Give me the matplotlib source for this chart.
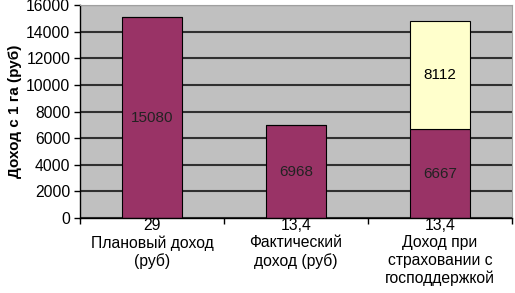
import matplotlib
matplotlib.use("Agg")
import matplotlib.pyplot as plt
import numpy as np

plt.rcParams['font.family'] = ['Liberation Sans', 'DejaVu Sans']

categories = ["29\nПлановый доход\n(руб)", "13,4\nФактический\nдоход (руб)",
              "13,4\nДоход при\nстраховании с\nгосподдержкой"]
base_values = [15080, 6968, 6667]
extra_values = [0, 0, 8112]
y_ticks = [0, 2000, 4000, 6000, 8000, 10000, 12000, 14000, 16000]
y_label = "Доход с 1 га (руб)"

fig = plt.figure(figsize=(5.15, 2.93), dpi=100)
ax = fig.add_axes([80/515, 1-218/293, (512-80)/515, (218-5)/293])
ax.set_facecolor('#c0c0c0')

x = np.arange(len(categories))
w = 0.41
ax.set_axisbelow(True)
ax.yaxis.grid(True, color='#303030', linewidth=1.5)
ax.bar(x, base_values, w, color='#993366', edgecolor='#000000', linewidth=0.8)
ax.bar(x, extra_values, w, bottom=base_values, color='#ffffcc', edgecolor='#000000', linewidth=0.8)

for xi, v in zip(x, base_values):
    ax.text(xi, v/2, str(v), ha='center', va='center', fontsize=11, color='#222222')
for xi, b, v in zip(x, base_values, extra_values):
    if v:
        ax.text(xi, b + v/2, str(v), ha='center', va='center', fontsize=11, color='#000000')

ax.set_xlim(-0.5, 2.5)
ax.set_ylim(0, 16000)
ax.set_yticks(y_ticks)
ax.tick_params(axis='y', labelsize=11.3, length=4, width=1, direction='out', pad=3)
ax.set_xticks(x)
ax.set_xticklabels(categories, fontsize=11.3, linespacing=1.2)
ax.tick_params(axis='x', length=0, pad=0)
ax.set_xticks([-0.5, 0.5, 1.5, 2.5], minor=True)
ax.tick_params(axis='x', which='minor', length=4, width=1, direction='out')

for s in ['top', 'right']:
    ax.spines[s].set_color('#a0a0a0')
    ax.spines[s].set_linewidth(0.8)
for s in ['left', 'bottom']:
    ax.spines[s].set_color('#000000')
    ax.spines[s].set_linewidth(1)

ax.set_ylabel(y_label, fontsize=11, fontweight='bold', labelpad=3)

fig.savefig('out.png', dpi=100)
